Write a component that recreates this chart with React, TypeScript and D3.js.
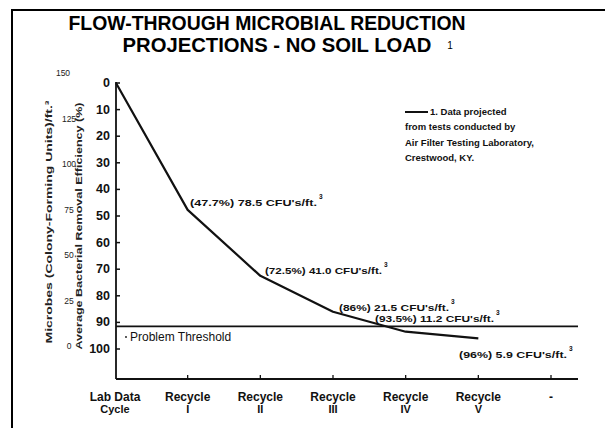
import React from "react";
import * as d3 from "d3";

const categories = ["Lab Data|Cycle", "Recycle|I", "Recycle|II", "Recycle|III", "Recycle|IV", "Recycle|V", "-"];
const efficiency = [0, 47.7, 72.5, 86, 93.5, 96];
const cfuValues = ["", "78.5", "41.0", "21.5", "11.2", "5.9"];
const effTicks = [0, 10, 20, 30, 40, 50, 60, 70, 80, 90, 100];
const microbeTicks = [0, 25, 50, 75, 100, 125, 150];
const threshold = 91.5;
const legendLines = ["1. Data projected", "from tests conducted by", "Air Filter Testing Laboratory,", "Crestwood, KY."];

const W = 605;
const H = 428;

export default function App() {
  const x = d3.scalePoint<string>().domain(categories).range([115, 551]);
  const y = d3.scaleLinear().domain([0, 100]).range([83, 349]);
  const ym = d3.scaleLinear().domain([0, 150]).range([346, 73]);
  const axisX0 = 116;
  const axisX1 = 578;
  const axisY0 = 82;
  const axisY1 = 379;

  const pts: [number, number][] = efficiency.map((e, i) => [i === 0 ? axisX0 : (x(categories[i]) as number), y(e)]);
  const line = d3.line().curve(d3.curveLinear)(pts) || "";

  const ann = [
    null,
    { x: 190, y: 206, len: 127 },
    { x: 265, y: 274, len: 117 },
    { x: 339, y: 311, len: 110 },
    { x: 375, y: 322, len: 119 },
    { x: 459, y: 358, len: 108 },
  ];

  const font = "'Liberation Sans', Arial, sans-serif";
  const ink = "#111";

  return (
    <svg width={W} height={H} style={{ position: "absolute", left: 0, top: 0, background: "#fff" }} fontFamily={font}>
      <rect x={0} y={0} width={W} height={H} fill="#fff" />
      {/* frame */}
      <line x1={12} y1={10} x2={W} y2={10} stroke="#000" strokeWidth={2} />
      <line x1={12} y1={9} x2={12} y2={H} stroke="#000" strokeWidth={2} />

      {/* title */}
      <text x={267} y={30} textAnchor="middle" fontSize={20} fontWeight="bold" fill="#000" textLength={397} lengthAdjust="spacingAndGlyphs">
        FLOW-THROUGH MICROBIAL REDUCTION
      </text>
      <text x={277} y={52} textAnchor="middle" fontSize={20} fontWeight="bold" fill="#000" textLength={309} lengthAdjust="spacingAndGlyphs">
        PROJECTIONS - NO SOIL LOAD
      </text>
      <text x={450} y={49} textAnchor="middle" fontSize={10} fill="#000">1</text>

      {/* axes */}
      <line x1={axisX0} y1={axisY0} x2={axisX0} y2={axisY1} stroke={ink} strokeWidth={1.8} />
      <line x1={axisX0} y1={axisY1} x2={axisX1} y2={axisY1} stroke={ink} strokeWidth={1.8} />

      {/* efficiency ticks */}
      {effTicks.map((t) => (
        <g key={"e" + t}>
          <line x1={axisX0} y1={y(t)} x2={axisX0 + 4} y2={y(t)} stroke={ink} strokeWidth={1.5} />
          <text x={110} y={y(t) + 4} textAnchor="end" fontSize={12.5} fontWeight="bold" fill={ink}>{t}</text>
        </g>
      ))}

      {/* microbe labels */}
      {microbeTicks.map((t) => (
        <text key={"m" + t} x={t === 150 ? 63 : 69} y={ym(t) + 3} textAnchor="middle" fontSize={8.5} fill="#222">{t}</text>
      ))}

      {/* axis titles */}
      <text transform="translate(52,222) rotate(-90)" textAnchor="middle" fontSize={9} fontWeight="bold" fill="#222" textLength={243} lengthAdjust="spacingAndGlyphs">
        Microbes (Colony-Forming Units)/ft.³
      </text>
      <text transform="translate(82,226) rotate(-90)" textAnchor="middle" fontSize={9} fontWeight="bold" fill="#222" textLength={247} lengthAdjust="spacingAndGlyphs">
        Average Bacterial Removal Efficiency (%)
      </text>

      {/* x ticks and labels */}
      {categories.map((c, i) => {
        const cx = x(c) as number;
        const parts = c.split("|");
        return (
          <g key={c}>
            {i > 0 && <line x1={cx} y1={axisY1} x2={cx} y2={axisY1 - 4} stroke={ink} strokeWidth={1.3} />}
            <text x={cx} y={401} textAnchor="middle" fontSize={12} fontWeight="bold" fill={ink}>{parts[0]}</text>
            {parts[1] && (
              <text x={cx} y={413} textAnchor="middle" fontSize={11} fontWeight="bold" fill={ink}>{parts[1]}</text>
            )}
          </g>
        );
      })}

      {/* threshold */}
      <line x1={axisX0} y1={y(threshold)} x2={axisX1} y2={y(threshold)} stroke={ink} strokeWidth={1.6} />
      <circle cx={126} cy={337} r={0.9} fill={ink} />
      <text x={130} y={341} fontSize={12} fill={ink}>Problem Threshold</text>

      {/* data line */}
      <path d={line} fill="none" stroke={ink} strokeWidth={2.2} strokeLinejoin="round" />

      {/* annotations */}
      {ann.map((a, i) =>
        a ? (
          <g key={"a" + i}>
            <text x={a.x} y={a.y} fontSize={9} fontWeight="bold" fill={ink} textLength={a.len} lengthAdjust="spacingAndGlyphs">
              {`(${efficiency[i]}%) ${cfuValues[i]} CFU's/ft.`}
            </text>
            <text x={a.x + a.len + 2} y={a.y - 7} fontSize={6.5} fontWeight="bold" fill={ink}>3</text>
          </g>
        ) : null
      )}

      {/* legend */}
      <line x1={405} y1={112} x2={428} y2={112} stroke={ink} strokeWidth={2} />
      {legendLines.map((l, i) => (
        <text key={l} x={i === 0 ? 430 : 405} y={115 + i * 15.3} fontSize={9.5} fontWeight="bold" fill={ink}>{l}</text>
      ))}
    </svg>
  );
}
